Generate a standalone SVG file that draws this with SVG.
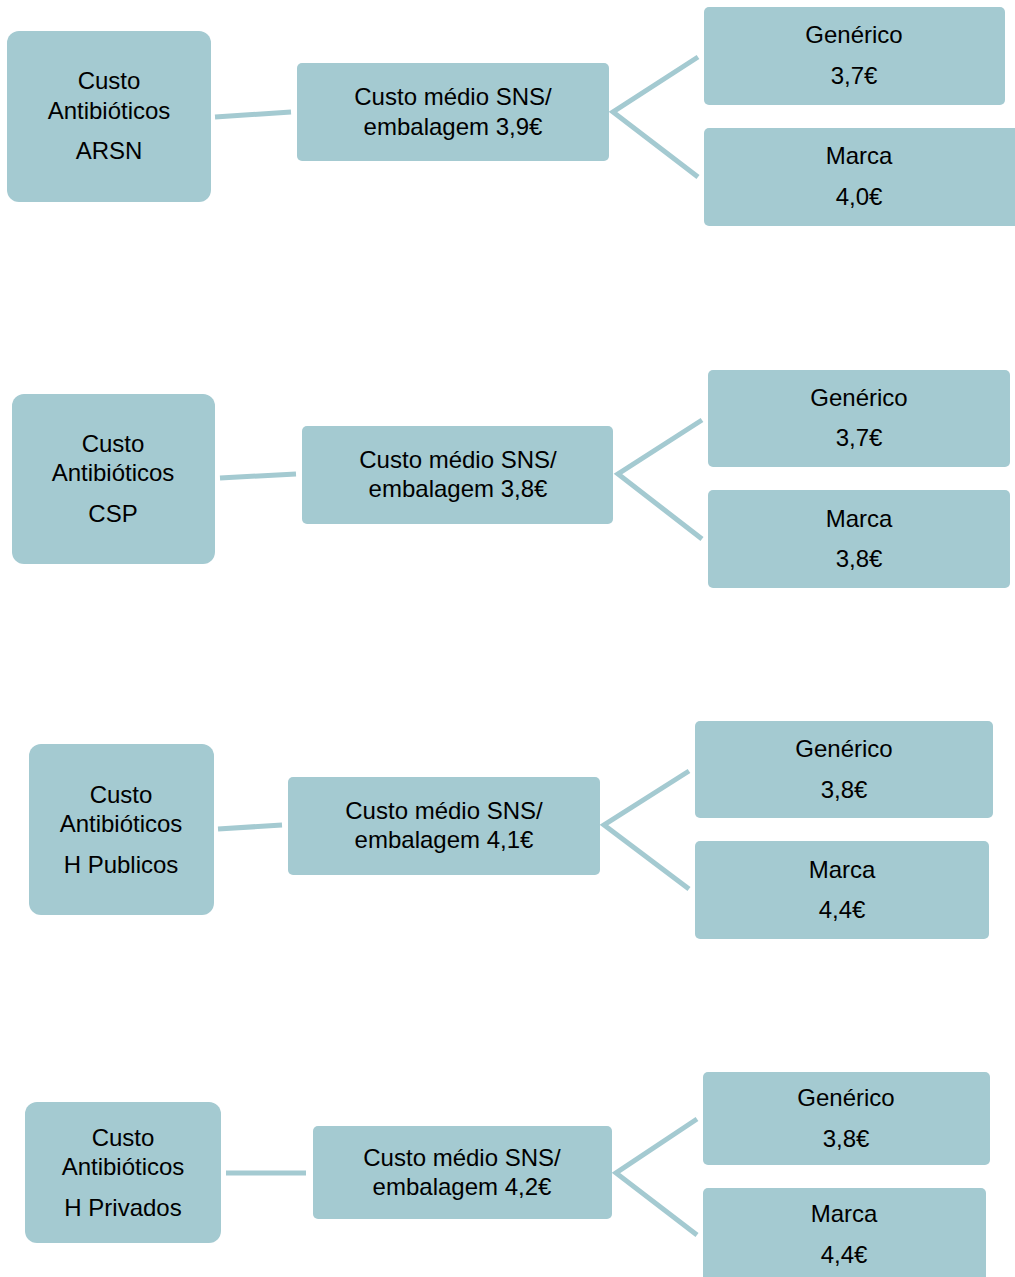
<svg xmlns="http://www.w3.org/2000/svg" width="1015" height="1277" viewBox="0 0 1015 1277">
<style>
.b{fill:#A4CAD1}
.c{stroke:#A4CAD1;stroke-width:5;fill:none}
text{font-family:"Liberation Sans",Arial,sans-serif;font-size:24px;fill:#000;text-anchor:middle}
</style>
<rect width="1015" height="1277" fill="#fff"/>
<g id="connectors">
<line class="c" x1="215" y1="117" x2="291" y2="112"/>
<polyline class="c" points="698,57 613,112 698,177"/>
<line class="c" x1="220" y1="478" x2="296" y2="474"/>
<polyline class="c" points="702,420 618,474 702,539"/>
<line class="c" x1="218" y1="829" x2="282" y2="825"/>
<polyline class="c" points="689,771 604,825 689,889"/>
<line class="c" x1="226" y1="1173" x2="306" y2="1173"/>
<polyline class="c" points="697,1119 616,1173 697,1235"/>
</g>
<g id="n1">
<rect class="b" x="7" y="31" width="204" height="171" rx="12"/>
<text x="109" y="89">Custo</text><text x="109" y="119">Antibióticos</text><text x="109" y="159">ARSN</text>
</g>
<g id="n1m">
<rect class="b" x="297" y="63" width="312" height="98" rx="5"/>
<text x="453" y="105">Custo médio SNS/</text><text x="453" y="135">embalagem 3,9€</text>
</g>
<g id="n1g">
<rect class="b" x="704" y="7" width="301" height="98" rx="5"/>
<text x="854" y="43">Genérico</text><text x="854" y="84">3,7€</text>
</g>
<g id="n1b">
<rect class="b" x="704" y="128" width="316" height="98" rx="5"/>
<text x="859" y="164">Marca</text><text x="859" y="205">4,0€</text>
</g>
<g id="n2">
<rect class="b" x="12" y="394" width="203" height="170" rx="12"/>
<text x="113" y="452">Custo</text><text x="113" y="481">Antibióticos</text><text x="113" y="522">CSP</text>
</g>
<g id="n2m">
<rect class="b" x="302" y="426" width="311" height="98" rx="5"/>
<text x="458" y="468">Custo médio SNS/</text><text x="458" y="497">embalagem 3,8€</text>
</g>
<g id="n2g">
<rect class="b" x="708" y="370" width="302" height="97" rx="5"/>
<text x="859" y="406">Genérico</text><text x="859" y="446">3,7€</text>
</g>
<g id="n2b">
<rect class="b" x="708" y="490" width="302" height="98" rx="5"/>
<text x="859" y="527">Marca</text><text x="859" y="567">3,8€</text>
</g>
<g id="n3">
<rect class="b" x="29" y="744" width="185" height="171" rx="12"/>
<text x="121" y="803">Custo</text><text x="121" y="832">Antibióticos</text><text x="121" y="873">H Publicos</text>
</g>
<g id="n3m">
<rect class="b" x="288" y="777" width="312" height="98" rx="5"/>
<text x="444" y="819">Custo médio SNS/</text><text x="444" y="848">embalagem 4,1€</text>
</g>
<g id="n3g">
<rect class="b" x="695" y="721" width="298" height="97" rx="5"/>
<text x="844" y="757">Genérico</text><text x="844" y="798">3,8€</text>
</g>
<g id="n3b">
<rect class="b" x="695" y="841" width="294" height="98" rx="5"/>
<text x="842" y="878">Marca</text><text x="842" y="918">4,4€</text>
</g>
<g id="n4">
<rect class="b" x="25" y="1102" width="196" height="141" rx="12"/>
<text x="123" y="1146">Custo</text><text x="123" y="1175">Antibióticos</text><text x="123" y="1216">H Privados</text>
</g>
<g id="n4m">
<rect class="b" x="313" y="1126" width="299" height="93" rx="5"/>
<text x="462" y="1166">Custo médio SNS/</text><text x="462" y="1195">embalagem 4,2€</text>
</g>
<g id="n4g">
<rect class="b" x="703" y="1072" width="287" height="93" rx="5"/>
<text x="846" y="1106">Genérico</text><text x="846" y="1147">3,8€</text>
</g>
<g id="n4b">
<rect class="b" x="703" y="1188" width="283" height="100" rx="5"/>
<text x="844" y="1222">Marca</text><text x="844" y="1263">4,4€</text>
</g>
</svg>
